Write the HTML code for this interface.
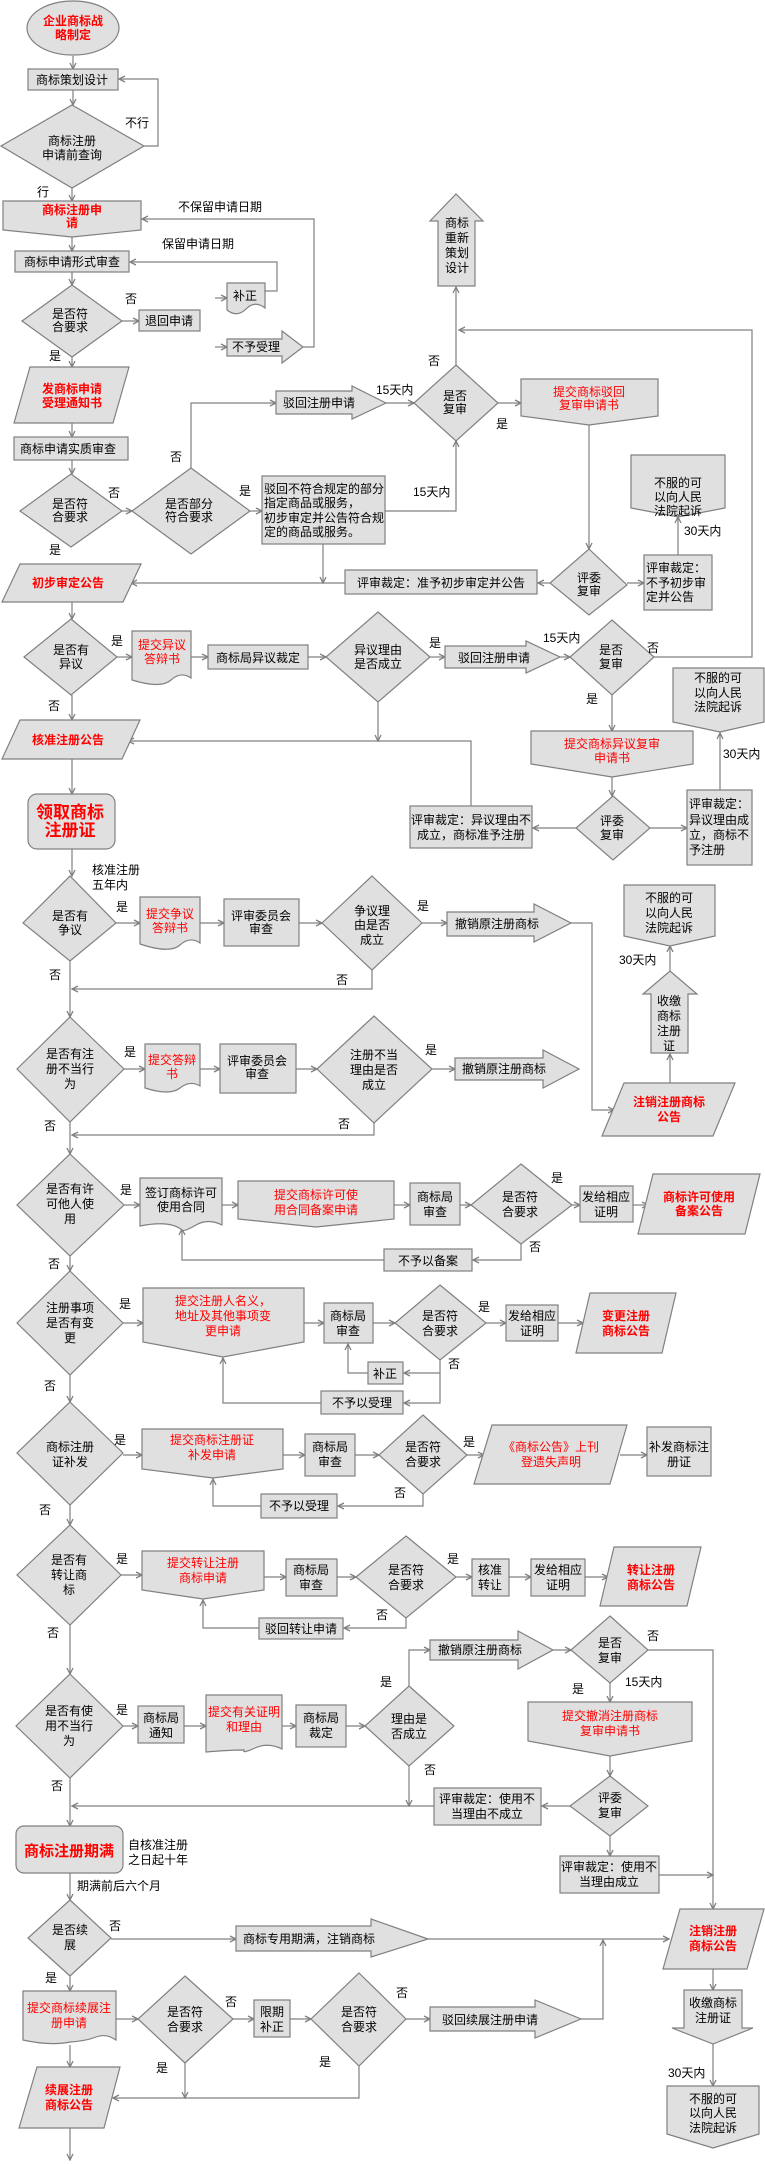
<!DOCTYPE html>
<html><head><meta charset="utf-8"><style>
html,body{margin:0;padding:0;background:#fff}
svg{display:block}
text{font-family:"Liberation Sans","Noto Sans CJK SC","WenQuanYi Zen Hei",sans-serif;font-size:12px;fill:#000}
.r{fill:#f00}
.b{font-weight:bold}
.s{fill:#e0e0e0;stroke:#808080;stroke-width:1.2}
.l{fill:none;stroke:#808080;stroke-width:1.2}
</style></head><body>
<svg width="765" height="2164" viewBox="0 0 765 2164" xmlns="http://www.w3.org/2000/svg">
<defs><marker id="a" markerWidth="8" markerHeight="8" refX="7" refY="4" orient="auto" markerUnits="userSpaceOnUse"><path d="M1,1 L7,4 L1,7" fill="none" stroke="#808080" stroke-width="1.3"/></marker></defs>

<g class="l" marker-end="url(#a)">
<path d="M73,56V69"/><path d="M73,90V105"/><path d="M144,146H158V79H119"/>
<path d="M72,188V201"/><path d="M72,237V251"/><path d="M72,272V285"/>
<path d="M122,321H139"/><path d="M215,298H227"/><path d="M215,347H227"/>
<path d="M265,291H277V262H130"/><path d="M303,347H314V219H142"/>
<path d="M72,357V367"/><path d="M72,423V437"/><path d="M72,460V474"/>
<path d="M122,511H132"/><path d="M250,511H262"/><path d="M191,468V403H276"/>
<path d="M386,403H414"/><path d="M385,511H456V441"/><path d="M456,365V287"/>
<path d="M654,657H752V330H459"/><path d="M498,403H521"/><path d="M589,425V549"/>
<path d="M550,583H538"/><path d="M627,583H644"/><path d="M678,555V517"/>
<path d="M345,583H131"/><path d="M323,544V583"/>
<path d="M72,602V619"/><path d="M117,657H132"/><path d="M191,657H208"/><path d="M308,657H326"/><path d="M430,657H445"/><path d="M560,657H570"/>
<path d="M72,695V720"/><path d="M378,702V741"/><path d="M471,806V741H128"/>
<path d="M612,695V731"/><path d="M612,777V796"/><path d="M576,828H533"/><path d="M650,828H687"/><path d="M720,790V733"/>
<path d="M72,759V794"/><path d="M72,849V876"/>
<path d="M116,923H140"/><path d="M200,923H224"/><path d="M299,923H322"/><path d="M422,923H447"/>
<path d="M571,923H592V1110H614"/><path d="M372,970V989H72"/><path d="M70,961V1017"/>
<path d="M124,1069H145"/><path d="M200,1069H220"/><path d="M296,1069H317"/><path d="M432,1069H455"/>
<path d="M374,1123V1135H72"/><path d="M70,1122V1154"/>
<path d="M670,1083V1054"/><path d="M670,971V946"/>
<path d="M124,1205H140"/><path d="M222,1205H238"/><path d="M394,1205H410"/><path d="M460,1205H471"/><path d="M572,1205H580"/><path d="M633,1205H648"/>
<path d="M521,1244V1260H473"/><path d="M384,1260H182V1229"/><path d="M70,1256V1271"/>
<path d="M123,1323H143"/><path d="M304,1323H324"/><path d="M373,1323H395"/><path d="M486,1323H506"/><path d="M558,1323H583"/>
<path d="M440,1360V1403H404"/><path d="M440,1373H404"/><path d="M368,1373H348V1344"/><path d="M321,1403H223V1358"/><path d="M70,1375V1402"/>
<path d="M123,1455H142"/><path d="M283,1455H305"/><path d="M355,1455H379"/><path d="M467,1455H484"/><path d="M620,1455H647"/>
<path d="M423,1494V1506H338"/><path d="M261,1506H213V1479"/><path d="M70,1505V1525"/>
<path d="M121,1575H142"/><path d="M264,1577H286"/><path d="M337,1577H356"/><path d="M456,1577H472"/><path d="M509,1577H531"/><path d="M585,1577H608"/>
<path d="M406,1618V1628H344"/><path d="M259,1628H203V1600"/><path d="M70,1625V1674"/>
<path d="M123,1726H138"/><path d="M184,1726H206"/><path d="M282,1726H296"/><path d="M346,1726H365"/>
<path d="M409,1686V1650H430"/><path d="M553,1650H571"/><path d="M648,1650H713V1909"/>
<path d="M610,1683V1702"/><path d="M610,1756V1776"/><path d="M570,1806H542"/><path d="M434,1806H72"/><path d="M409,1766V1806"/><path d="M610,1836V1856"/><path d="M659,1875H713"/>
<path d="M70,1778V1826"/><path d="M70,1873V1900"/>
<path d="M111,1939H236"/><path d="M428,1939H669"/><path d="M70,1976V1991"/>
<path d="M116,2019H138"/><path d="M233,2019H254"/><path d="M290,2019H311"/><path d="M406,2019H430"/>
<path d="M581,2019H603V1940"/><path d="M185,2063V2098"/><path d="M359,2066V2098H113"/>
<path d="M70,2045V2067"/><path d="M70,2128V2160"/><path d="M713,1969V1990"/><path d="M713,2044V2086"/>
</g>

<g class="s">
<ellipse cx="73" cy="28" rx="46" ry="27"/>
<rect x="28" y="69" width="90" height="21"/>
<polygon points="72,105 144,146 72,188 1,146"/>
<path d="M3,201H141V230L72,237L3,230Z"/>
<rect x="15" y="251" width="114" height="21"/>
<polygon points="72,285 122,321 72,357 22,321"/>
<rect x="139" y="310" width="61" height="21"/>
<path d="M227,283H265V308Q255,300 246,309T227,310Z"/>
<path d="M227,339H282V331L303,347L282,363V356H227Z"/>
<polygon points="30,367 129,367 113,423 14,423"/>
<rect x="14" y="437" width="114" height="23"/>
<polygon points="71,474 122,511 71,547 20,511"/>
<polygon points="191,468 250,511 191,554 132,511"/>
<rect x="262" y="476" width="123" height="68"/>
<path d="M276,391H352V386L386,403L352,419V414H276Z"/>
<polygon points="456,365 498,403 456,441 414,403"/>
<path d="M438,286V221H430L456,194L483,221H475V286Z"/>
<path d="M521,379H658V416L589,425L521,416Z"/>
<polygon points="589,549 627,585 589,615 550,583"/>
<rect x="345" y="570" width="192" height="24"/>
<rect x="644" y="555" width="68" height="55"/>
<path d="M631,455H725V508L678,517L631,508Z"/>
<polygon points="20,564 141,564 123,602 2,602"/>
<polygon points="71,619 117,657 71,695 24,657"/>
<path d="M132,631H191V678Q181,671 171,680T132,680Z"/>
<rect x="208" y="645" width="100" height="24"/>
<polygon points="378,612 430,657 378,702 326,657"/>
<path d="M445,646H526V641L560,657L526,673V668H445Z"/>
<polygon points="612,620 654,657 612,695 570,657"/>
<path d="M673,668H764V722L720,732L673,722Z"/>
<polygon points="20,720 140,720 122,759 2,759"/>
<path d="M531,731H693V764L612,777L531,764Z"/>
<polygon points="613,796 650,828 613,860 576,828"/>
<rect x="410" y="806" width="122" height="42"/>
<rect x="687" y="790" width="65" height="75"/>
<rect x="28" y="794" width="87" height="55" rx="9"/>
<polygon points="70,876 116,923 70,961 23,923"/>
<path d="M140,897H200V943Q190,936 180,945T140,944Z"/>
<rect x="224" y="899" width="75" height="47"/>
<polygon points="372,876 422,923 372,970 322,923"/>
<path d="M447,912H534V904L571,923L534,942V936H447Z"/>
<polygon points="70,1017 124,1069 70,1122 17,1069"/>
<path d="M145,1044H200V1086Q190,1080 180,1088T145,1088Z"/>
<rect x="220" y="1044" width="76" height="49"/>
<polygon points="374,1016 432,1069 374,1123 317,1069"/>
<path d="M455,1058H543V1050L579,1069L543,1088V1080H455Z"/>
<polygon points="624,1083 735,1083 713,1136 602,1136"/>
<path d="M651,1053V994H643L670,971L697,994H688V1053Z"/>
<path d="M624,885H715V936L670,946L624,936Z"/>
<polygon points="70,1154 124,1205 70,1256 17,1205"/>
<path d="M140,1178H222V1225Q208,1218 196,1225T182,1230Q170,1220 140,1226Z"/>
<path d="M238,1181H394V1219L316,1227L238,1219Z"/>
<rect x="410" y="1183" width="50" height="42"/>
<polygon points="521,1164 572,1205 521,1244 471,1205"/>
<rect x="580" y="1186" width="53" height="36"/>
<polygon points="653,1174 760,1174 745,1234 638,1234"/>
<rect x="384" y="1249" width="88" height="22"/>
<polygon points="70,1271 123,1323 70,1375 17,1323"/>
<path d="M143,1288H304V1342L223,1357L143,1342Z"/>
<rect x="324" y="1303" width="49" height="40"/>
<polygon points="440,1285 486,1323 440,1360 395,1323"/>
<rect x="506" y="1305" width="52" height="36"/>
<polygon points="590,1293 676,1293 662,1353 576,1353"/>
<rect x="368" y="1362" width="35" height="22"/>
<rect x="321" y="1391" width="82" height="23"/>
<polygon points="70,1402 123,1453 70,1505 17,1453"/>
<path d="M142,1429H283V1469L213,1478L142,1469Z"/>
<rect x="305" y="1434" width="50" height="42"/>
<polygon points="423,1415 467,1455 423,1494 379,1455"/>
<polygon points="492,1425 627,1425 610,1484 474,1484"/>
<rect x="647" y="1427" width="64" height="49"/>
<rect x="261" y="1494" width="76" height="24"/>
<polygon points="70,1525 121,1575 70,1625 17,1575"/>
<path d="M142,1551H264V1590L203,1599L142,1590Z"/>
<rect x="286" y="1559" width="51" height="37"/>
<polygon points="406,1536 456,1577 406,1618 356,1577"/>
<rect x="472" y="1559" width="37" height="37"/>
<rect x="531" y="1559" width="54" height="37"/>
<polygon points="614,1547 701,1547 687,1606 600,1606"/>
<rect x="259" y="1618" width="84" height="21"/>
<polygon points="70,1674 123,1726 70,1778 16,1726"/>
<rect x="138" y="1706" width="46" height="37"/>
<path d="M206,1695H282V1749Q268,1742 255,1748T244,1750Q230,1750 206,1752Z"/>
<rect x="296" y="1705" width="50" height="42"/>
<polygon points="409,1686 454,1726 409,1766 365,1726"/>
<path d="M430,1640H518V1631L553,1650L518,1669V1660H430Z"/>
<polygon points="610,1616 648,1650 610,1683 571,1650"/>
<path d="M528,1702H692V1741L610,1756L528,1741Z"/>
<polygon points="610,1776 648,1806 610,1836 570,1806"/>
<rect x="434" y="1788" width="107" height="37"/>
<rect x="560" y="1856" width="99" height="37"/>
<rect x="16" y="1826" width="107" height="47" rx="8"/>
<polygon points="70,1900 111,1938 70,1976 28,1938"/>
<path d="M236,1926H371V1919L428,1939L371,1957V1951H236Z"/>
<polygon points="680,1909 764,1909 747,1969 663,1969"/>
<path d="M684,1990H742V2028H753L713,2044L672,2028H684Z"/>
<path d="M667,2086H759V2134L713,2148L667,2134Z"/>
<path d="M23,1991H116V2040Q106,2033 96,2037T70,2042Q50,2046 23,2040Z"/>
<polygon points="185,1976 233,2019 185,2063 138,2019"/>
<rect x="254" y="2000" width="36" height="37"/>
<polygon points="359,1973 406,2019 359,2066 311,2019"/>
<path d="M430,2007H535V2000L581,2019L535,2038V2031H430Z"/>
<polygon points="37,2067 120,2067 104,2128 19,2128"/>
</g>

<g>
<text x="264" y="493">驳回不符合规定的部分</text>
<text x="264" y="507">指定商品或服务，</text>
<text x="264" y="522">初步审定并公告符合规</text>
<text x="264" y="536">定的商品或服务。</text>
<text x="646" y="572">评审裁定：</text>
<text x="646" y="587">不予初步审</text>
<text x="646" y="601">定并公告</text>
<text x="689" y="808">评审裁定：</text>
<text x="689" y="824">异议理由成</text>
<text x="689" y="839">立，商标不</text>
<text x="689" y="854">予注册</text>
</g>

<g text-anchor="middle">
<text x="73" y="25" class="r b">企业商标战</text><text x="73" y="39" class="r b">略制定</text>
<text x="72" y="84">商标策划设计</text>
<text x="72" y="145">商标注册</text><text x="72" y="159">申请前查询</text>
<text x="72" y="214" class="r b">商标注册申</text><text x="72" y="227" class="r b">请</text>
<text x="72" y="266">商标申请形式审查</text>
<text x="70" y="318">是否符</text><text x="70" y="331">合要求</text>
<text x="169" y="325">退回申请</text>
<text x="245" y="300">补正</text>
<text x="256" y="351">不予受理</text>
<text x="72" y="393" class="r b">发商标申请</text><text x="72" y="407" class="r b">受理通知书</text>
<text x="68" y="453">商标申请实质审查</text>
<text x="70" y="508">是否符</text><text x="70" y="521">合要求</text>
<text x="189" y="508">是否部分</text><text x="189" y="521">符合要求</text>
<text x="319" y="407">驳回注册申请</text>
<text x="455" y="400">是否</text><text x="455" y="413">复审</text>
<text x="457" y="227">商标</text><text x="457" y="242">重新</text><text x="457" y="257">策划</text><text x="457" y="272">设计</text>
<text x="589" y="396" class="r">提交商标驳回</text><text x="589" y="409" class="r">复审申请书</text>
<text x="589" y="582">评委</text><text x="589" y="595">复审</text>
<text x="441" y="587">评审裁定：准予初步审定并公告</text>
<text x="678" y="487">不服的可</text><text x="678" y="501">以向人民</text><text x="678" y="515">法院起诉</text>
<text x="68" y="587" class="r b">初步审定公告</text>
<text x="71" y="654">是否有</text><text x="71" y="668">异议</text>
<text x="162" y="649" class="r">提交异议</text><text x="162" y="663" class="r">答辩书</text>
<text x="258" y="662">商标局异议裁定</text>
<text x="378" y="654">异议理由</text><text x="378" y="668">是否成立</text>
<text x="494" y="662">驳回注册申请</text>
<text x="611" y="654">是否</text><text x="611" y="668">复审</text>
<text x="718" y="682">不服的可</text><text x="718" y="697">以向人民</text><text x="718" y="711">法院起诉</text>
<text x="68" y="744" class="r b">核准注册公告</text>
<text x="612" y="748" class="r">提交商标异议复审</text><text x="612" y="762" class="r">申请书</text>
<text x="612" y="825">评委</text><text x="612" y="839">复审</text>
<text x="471" y="824">评审裁定：异议理由不</text><text x="471" y="839">成立，商标准予注册</text>
<text x="70" y="818" class="r b" style="font-size:17px">领取商标</text><text x="70" y="836" class="r b" style="font-size:17px">注册证</text>
<text x="70" y="920">是否有</text><text x="70" y="934">争议</text>
<text x="170" y="918" class="r">提交争议</text><text x="170" y="932" class="r">答辩书</text>
<text x="261" y="920">评审委员会</text><text x="261" y="933">审查</text>
<text x="372" y="915">争议理</text><text x="372" y="929">由是否</text><text x="372" y="944">成立</text>
<text x="497" y="928">撤销原注册商标</text>
<text x="70" y="1058">是否有注</text><text x="70" y="1073">册不当行</text><text x="70" y="1088">为</text>
<text x="172" y="1064" class="r">提交答辩</text><text x="172" y="1078" class="r">书</text>
<text x="257" y="1065">评审委员会</text><text x="257" y="1078">审查</text>
<text x="374" y="1059">注册不当</text><text x="374" y="1074">理由是否</text><text x="374" y="1089">成立</text>
<text x="504" y="1073">撤销原注册商标</text>
<text x="669" y="1106" class="r b">注销注册商标</text><text x="669" y="1121" class="r b">公告</text>
<text x="669" y="1005">收缴</text><text x="669" y="1020">商标</text><text x="669" y="1035">注册</text><text x="669" y="1050">证</text>
<text x="669" y="902">不服的可</text><text x="669" y="917">以向人民</text><text x="669" y="932">法院起诉</text>
<text x="70" y="1193">是否有许</text><text x="70" y="1208">可他人使</text><text x="70" y="1223">用</text>
<text x="181" y="1197">签订商标许可</text><text x="181" y="1211">使用合同</text>
<text x="316" y="1199" class="r">提交商标许可使</text><text x="316" y="1214" class="r">用合同备案申请</text>
<text x="435" y="1201">商标局</text><text x="435" y="1216">审查</text>
<text x="520" y="1201">是否符</text><text x="520" y="1216">合要求</text>
<text x="606" y="1201">发给相应</text><text x="606" y="1216">证明</text>
<text x="699" y="1201" class="r b">商标许可使用</text><text x="699" y="1215" class="r b">备案公告</text>
<text x="428" y="1265">不予以备案</text>
<text x="70" y="1312">注册事项</text><text x="70" y="1327">是否有变</text><text x="70" y="1342">更</text>
<text x="223" y="1305" class="r">提交注册人名义，</text><text x="223" y="1320" class="r">地址及其他事项变</text><text x="223" y="1335" class="r">更申请</text>
<text x="348" y="1320">商标局</text><text x="348" y="1335">审查</text>
<text x="440" y="1320">是否符</text><text x="440" y="1335">合要求</text>
<text x="532" y="1320">发给相应</text><text x="532" y="1335">证明</text>
<text x="626" y="1320" class="r b">变更注册</text><text x="626" y="1335" class="r b">商标公告</text>
<text x="385" y="1378">补正</text>
<text x="362" y="1407">不予以受理</text>
<text x="70" y="1451">商标注册</text><text x="70" y="1466">证补发</text>
<text x="212" y="1444" class="r">提交商标注册证</text><text x="212" y="1459" class="r">补发申请</text>
<text x="330" y="1451">商标局</text><text x="330" y="1466">审查</text>
<text x="423" y="1451">是否符</text><text x="423" y="1466">合要求</text>
<text x="551" y="1451" class="r">《商标公告》上刊</text><text x="551" y="1466" class="r">登遗失声明</text>
<text x="679" y="1451">补发商标注</text><text x="679" y="1466">册证</text>
<text x="299" y="1510">不予以受理</text>
<text x="69" y="1564">是否有</text><text x="69" y="1579">转让商</text><text x="69" y="1594">标</text>
<text x="203" y="1567" class="r">提交转让注册</text><text x="203" y="1582" class="r">商标申请</text>
<text x="311" y="1574">商标局</text><text x="311" y="1589">审查</text>
<text x="406" y="1574">是否符</text><text x="406" y="1589">合要求</text>
<text x="490" y="1574">核准</text><text x="490" y="1589">转让</text>
<text x="558" y="1574">发给相应</text><text x="558" y="1589">证明</text>
<text x="651" y="1574" class="r b">转让注册</text><text x="651" y="1589" class="r b">商标公告</text>
<text x="301" y="1633">驳回转让申请</text>
<text x="69" y="1715">是否有使</text><text x="69" y="1730">用不当行</text><text x="69" y="1745">为</text>
<text x="161" y="1722">商标局</text><text x="161" y="1737">通知</text>
<text x="244" y="1716" class="r">提交有关证明</text><text x="244" y="1731" class="r">和理由</text>
<text x="321" y="1722">商标局</text><text x="321" y="1737">裁定</text>
<text x="409" y="1723">理由是</text><text x="409" y="1738">否成立</text>
<text x="480" y="1654">撤销原注册商标</text>
<text x="610" y="1647">是否</text><text x="610" y="1662">复审</text>
<text x="610" y="1720" class="r">提交撤消注册商标</text><text x="610" y="1735" class="r">复审申请书</text>
<text x="610" y="1802">评委</text><text x="610" y="1817">复审</text>
<text x="487" y="1803">评审裁定：使用不</text><text x="487" y="1818">当理由不成立</text>
<text x="609" y="1871">评审裁定：使用不</text><text x="609" y="1886">当理由成立</text>
<text x="69" y="1856" class="r b" style="font-size:15px">商标注册期满</text>
<text x="70" y="1934">是否续</text><text x="70" y="1949">展</text>
<text x="309" y="1943">商标专用期满，注销商标</text>
<text x="713" y="1935" class="r b">注销注册</text><text x="713" y="1950" class="r b">商标公告</text>
<text x="713" y="2007">收缴商标</text><text x="713" y="2022">注册证</text>
<text x="713" y="2103">不服的可</text><text x="713" y="2117">以向人民</text><text x="713" y="2132">法院起诉</text>
<text x="69" y="2012" class="r">提交商标续展注</text><text x="69" y="2027" class="r">册申请</text>
<text x="185" y="2016">是否符</text><text x="185" y="2031">合要求</text>
<text x="272" y="2016">限期</text><text x="272" y="2031">补正</text>
<text x="359" y="2016">是否符</text><text x="359" y="2031">合要求</text>
<text x="490" y="2024">驳回续展注册申请</text>
<text x="69" y="2094" class="r b">续展注册</text><text x="69" y="2109" class="r b">商标公告</text>
</g>
<g>
<text x="125" y="127">不行</text><text x="37" y="196">行</text>
<text x="178" y="211">不保留申请日期</text><text x="162" y="248">保留申请日期</text>
<text x="125" y="303">否</text><text x="49" y="360">是</text>
<text x="170" y="461">否</text><text x="108" y="497">否</text><text x="239" y="495">是</text><text x="49" y="554">是</text>
<text x="376" y="394">15天内</text><text x="413" y="496">15天内</text>
<text x="428" y="365">否</text><text x="496" y="428">是</text>
<text x="684" y="535">30天内</text>
<text x="111" y="645">是</text><text x="429" y="647">是</text><text x="48" y="710">否</text><text x="543" y="642">15天内</text>
<text x="647" y="652">否</text><text x="586" y="703">是</text>
<text x="723" y="758">30天内</text>
<text x="92" y="874">核准注册</text><text x="92" y="889">五年内</text>
<text x="116" y="911">是</text><text x="417" y="910">是</text><text x="336" y="984">否</text><text x="49" y="979">否</text>
<text x="124" y="1056">是</text><text x="425" y="1054">是</text><text x="338" y="1128">否</text><text x="44" y="1130">否</text>
<text x="619" y="964">30天内</text>
<text x="120" y="1194">是</text><text x="551" y="1182">是</text><text x="529" y="1251">否</text><text x="48" y="1268">否</text>
<text x="119" y="1308">是</text><text x="478" y="1311">是</text><text x="448" y="1368">否</text><text x="44" y="1390">否</text>
<text x="114" y="1444">是</text><text x="463" y="1446">是</text><text x="394" y="1497">否</text><text x="39" y="1514">否</text>
<text x="116" y="1563">是</text><text x="447" y="1563">是</text><text x="376" y="1619">否</text><text x="47" y="1637">否</text>
<text x="116" y="1714">是</text><text x="380" y="1686">是</text><text x="424" y="1774">否</text><text x="51" y="1790">否</text>
<text x="647" y="1640">否</text><text x="572" y="1693">是</text><text x="625" y="1686">15天内</text>
<text x="128" y="1849">自核准注册</text><text x="128" y="1864">之日起十年</text>
<text x="77" y="1890">期满前后六个月</text>
<text x="109" y="1930">否</text><text x="45" y="1982">是</text>
<text x="225" y="2006">否</text><text x="396" y="1997">否</text><text x="156" y="2072">是</text><text x="319" y="2066">是</text>
<text x="668" y="2077">30天内</text>
</g>
</svg>
</body></html>
